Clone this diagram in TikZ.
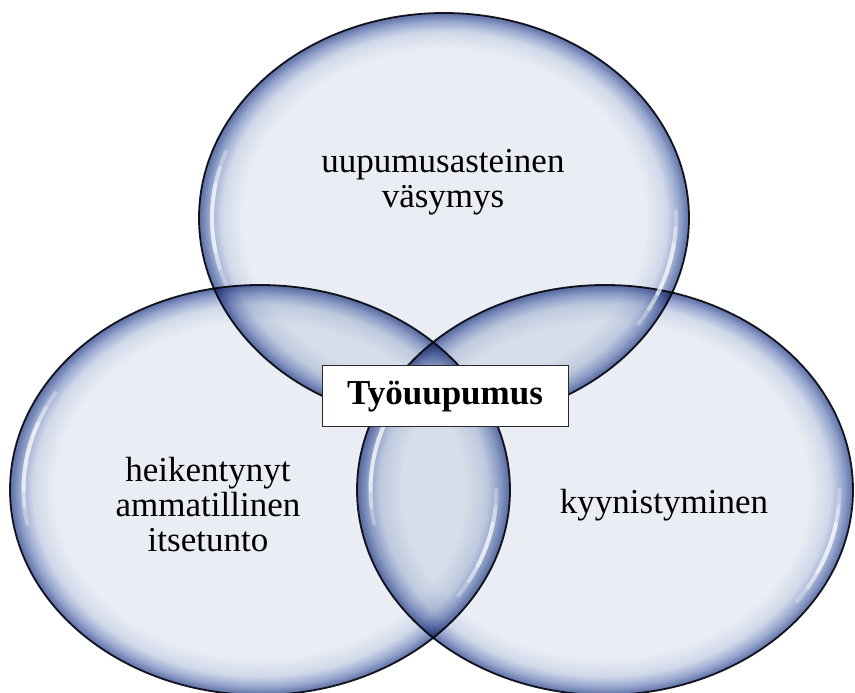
\documentclass[tikz,border=0pt]{standalone}
\usepackage{fontspec}
\setmainfont{Liberation Serif}
\usetikzlibrary{shapes.geometric}

% bubble colours
\definecolor{bIn}{RGB}{234,238,244}
\definecolor{bMid}{RGB}{208,216,233}
\definecolor{bDeep}{RGB}{150,166,206}
\definecolor{bRim}{RGB}{92,110,164}
\definecolor{edge}{RGB}{28,28,36}
\definecolor{boxline}{RGB}{40,40,40}

% light centre, blue rim (25bp = edge of the filled path)
\pgfdeclareradialshading{bubble}{\pgfpointorigin}{%
  color(0bp)=(bIn); color(20.5bp)=(bIn); color(22.7bp)=(bMid);
  color(24bp)=(bDeep); color(25bp)=(bRim); color(50bp)=(bRim)}

\tikzset{
  bubble/.style={ellipse, inner sep=0pt, outer sep=0pt, draw=edge,
    line width=1.8pt, shade, shading=bubble},
  txt/.style={font=\fontsize{35}{35}\selectfont, align=center, text=black},
  gloss/.style={draw=white, line width=4pt, line cap=round},
  titlebox/.style={draw=boxline, fill=white, line width=1pt,
    minimum width=246pt, minimum height=61pt, inner sep=0pt,
    font=\fontsize{35}{35}\selectfont\bfseries}
}

% soft white highlight along an elliptic arc, tapered at both ends
\newcommand\glossarc[5]{%
  \foreach \w/\o in {0/0.3,5/0.35,10/0.45}{%
    \draw[gloss, draw opacity=\o] (#1.center) ++({#4+\w}:#2 and #3)
      arc[start angle={#4+\w}, end angle={#5-\w}, x radius=#2, y radius=#3];
  }%
}

\begin{document}
\begin{tikzpicture}[x=1pt,y=1pt]
  \useasboundingbox (0,0) rectangle (855,693);
  \fill[white] (0,0) rectangle (855,693);

  % the three overlapping bubbles
  \begin{scope}[blend mode=multiply]
    \node[bubble, minimum width=500pt, minimum height=410pt] (left)  at (260,203) {};
    \node[bubble, minimum width=496pt, minimum height=410pt] (right) at (605,203) {};
    \node[bubble, minimum width=490pt, minimum height=410pt] (top)   at (444,475) {};
  \end{scope}

  % glossy highlights
  \glossarc{top}{232pt}{194pt}{160}{200}
  \glossarc{top}{232pt}{194pt}{-33}{2}
  \glossarc{left}{236.5pt}{194pt}{150}{190}
  \glossarc{left}{236.5pt}{194pt}{-33}{0}
  \glossarc{right}{234.5pt}{194pt}{150}{190}
  \glossarc{right}{234.5pt}{194pt}{-35}{0}

  % labels
  \node[txt] (ttop)   at (443,511) {uupumusasteinen\\väsymys};
  \node[txt] (tleft)  at (208,188) {heikentynyt\\ammatillinen\\itsetunto};
  \node[txt] (tright) at (664,188) {kyynistyminen};

  % centre box
  \node[titlebox] (core) at (445,296.5) {Työuupumus};
\end{tikzpicture}
\end{document}
